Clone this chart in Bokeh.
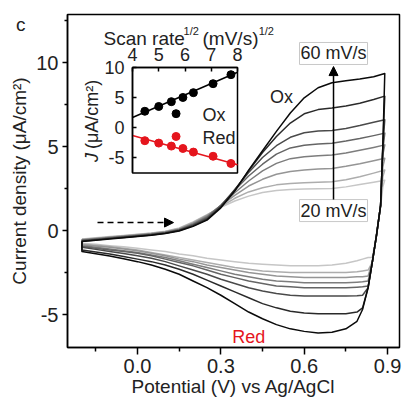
from bokeh.plotting import figure
from bokeh.models import (Range1d, LinearAxis, FixedTicker, PrintfTickFormatter,
                          Label, Arrow, NormalHead)
from bokeh.embed import file_html
from bokeh.resources import INLINE
from math import pi

FONT = "Liberation Sans"

# ---------------- main CV data ----------------
E_fwd = [-0.20, -0.15, -0.10, -0.05, 0.00, 0.05, 0.10, 0.15, 0.20, 0.25, 0.30, 0.35,
         0.40, 0.45, 0.50, 0.55, 0.60, 0.65, 0.70, 0.75, 0.80, 0.85, 0.89]
E_rev = [0.89, 0.883, 0.875, 0.86, 0.845, 0.83, 0.81, 0.79, 0.75, 0.70, 0.65, 0.60,
         0.55, 0.50, 0.45, 0.40, 0.35, 0.30, 0.25, 0.20, 0.15, 0.10, 0.05, 0.00,
         -0.05, -0.10, -0.15, -0.20]

# lightest (slowest) -> darkest (60 mV/s)
fwd_1 = [-0.5, -0.43, -0.36, -0.29, -0.22, -0.14, -0.04, 0.15, 0.52, 0.95, 1.38, 1.76, 2.05, 2.27, 2.38, 2.44, 2.47, 2.49, 2.5, 2.6, 2.74, 2.88, 3.0]
fwd_2 = [-0.52, -0.45, -0.38, -0.31, -0.24, -0.16, -0.06, 0.12, 0.48, 0.92, 1.42, 1.92, 2.3, 2.55, 2.72, 2.8, 2.85, 2.88, 2.9, 3.02, 3.2, 3.42, 3.6]
fwd_3 = [-0.54, -0.47, -0.4, -0.33, -0.26, -0.18, -0.08, 0.1, 0.44, 0.88, 1.48, 2.1, 2.65, 3.05, 3.35, 3.52, 3.6, 3.66, 3.7, 3.83, 3.98, 4.15, 4.3]
fwd_4 = [-0.56, -0.49, -0.42, -0.35, -0.28, -0.2, -0.1, 0.07, 0.4, 0.82, 1.5, 2.25, 2.95, 3.55, 4.0, 4.28, 4.4, 4.46, 4.5, 4.62, 4.78, 4.95, 5.1]
fwd_5 = [-0.58, -0.51, -0.44, -0.37, -0.3, -0.22, -0.12, 0.05, 0.36, 0.78, 1.5, 2.4, 3.25, 3.95, 4.55, 4.92, 5.08, 5.15, 5.2, 5.33, 5.48, 5.65, 5.8]
fwd_6 = [-0.6, -0.53, -0.46, -0.39, -0.32, -0.24, -0.14, 0.02, 0.32, 0.72, 1.45, 2.45, 3.45, 4.35, 5.05, 5.55, 5.82, 5.92, 5.95, 6.08, 6.25, 6.45, 6.6]
fwd_7 = [-0.63, -0.56, -0.48, -0.41, -0.34, -0.26, -0.16, 0.0, 0.28, 0.66, 1.4, 2.4, 3.55, 4.65, 5.6, 6.4, 6.95, 7.2, 7.3, 7.42, 7.58, 7.8, 8.0]
fwd_8 = [-0.65, -0.58, -0.5, -0.43, -0.36, -0.28, -0.18, -0.03, 0.25, 0.62, 1.35, 2.35, 3.6, 4.75, 5.9, 7.0, 7.9, 8.5, 8.8, 8.92, 9.02, 9.15, 9.35]

rev_1 = [3.0, 2.6, 1.4, -0.3, -1.6, -1.6, -1.7, -1.8, -1.95, -2.05, -2.1, -2.1, -2.1, -2.05, -2.0, -1.95, -1.85, -1.75, -1.65, -1.5, -1.4, -1.25, -1.15, -1.05, -0.97, -0.9, -0.82, -0.75]
rev_2 = [3.6, 3.2, 1.5, -0.3, -1.9, -2.35, -2.4, -2.45, -2.5, -2.5, -2.5, -2.5, -2.5, -2.45, -2.4, -2.3, -2.2, -2.05, -1.9, -1.75, -1.6, -1.45, -1.3, -1.15, -1.05, -0.95, -0.87, -0.8]
rev_3 = [4.3, 3.8, 1.5, -0.3, -1.9, -2.7, -2.75, -2.75, -2.8, -2.8, -2.8, -2.8, -2.75, -2.7, -2.6, -2.5, -2.35, -2.2, -2.05, -1.85, -1.7, -1.5, -1.35, -1.2, -1.1, -1.0, -0.92, -0.85]
rev_4 = [5.1, 4.5, 1.5, -0.3, -1.9, -3.0, -3.05, -3.07, -3.1, -3.1, -3.1, -3.1, -3.05, -3.0, -2.9, -2.75, -2.6, -2.4, -2.2, -2.0, -1.8, -1.6, -1.45, -1.3, -1.2, -1.1, -1.0, -0.9]
rev_5 = [5.8, 4.8, 1.5, -0.3, -1.9, -3.3, -3.35, -3.37, -3.4, -3.4, -3.4, -3.4, -3.35, -3.3, -3.15, -3.0, -2.8, -2.6, -2.35, -2.1, -1.9, -1.7, -1.5, -1.35, -1.25, -1.15, -1.05, -0.95]
rev_6 = [6.6, 5.0, 1.5, -0.3, -1.9, -3.4, -3.85, -3.88, -3.9, -3.9, -3.9, -3.9, -3.85, -3.75, -3.6, -3.4, -3.15, -2.9, -2.6, -2.35, -2.1, -1.85, -1.65, -1.5, -1.37, -1.25, -1.12, -1.0]
rev_7 = [8.0, 5.0, 1.5, -0.3, -1.9, -3.4, -4.6, -4.85, -4.95, -4.95, -4.95, -4.9, -4.8, -4.6, -4.35, -4.0, -3.65, -3.3, -2.95, -2.6, -2.3, -2.05, -1.85, -1.7, -1.55, -1.4, -1.27, -1.15]
rev_8 = [9.35, 5.0, 1.5, -0.3, -1.9, -3.4, -4.7, -5.4, -5.85, -6.05, -6.1, -6.0, -5.85, -5.6, -5.25, -4.85, -4.35, -3.85, -3.4, -3.0, -2.6, -2.3, -2.05, -1.85, -1.68, -1.52, -1.38, -1.25]

curve_colors = ["#c6c6c6", "#adadad", "#959595", "#7d7d7d", "#656565", "#4a4a4a", "#2a2a2a", "#0a0a0a"]

x_ticks = [0.0, 0.3, 0.6, 0.9]
x_minor = [-0.15, 0.15, 0.45, 0.75]
y_ticks = [-5, 0, 5, 10]
y_minor = [-2.5, 2.5, 7.5, 12.5]

# ---------------- inset data ----------------
sqrt_rate = [4.47, 5.00, 5.48, 5.66, 5.92, 6.32, 7.07, 7.75]
ox_J = [2.7, 3.5, 4.3, 2.3, 5.0, 5.8, 7.3, 8.8]
red_J = [-2.2, -2.6, -3.1, -1.5, -3.5, -4.1, -4.8, -6.0]
fit_x = [4, 8]
ox_fit = [1.67, 9.2]
red_fit = [-1.33, -6.2]
inset_x_ticks = [4, 5, 6, 7, 8]
inset_y_ticks = [-5, 0, 5, 10]

RED = "#e5151d"

p = figure(width=403, height=403,
           x_range=Range1d(-0.252, 0.943), y_range=Range1d(-6.96, 12.86),
           output_backend="svg", toolbar_location=None,
           min_border_left=67, min_border_right=4, min_border_top=14, min_border_bottom=56)
p.xgrid.visible = False
p.ygrid.visible = False
p.outline_line_color = "black"
p.outline_line_width = 1.5
p.outline_line_alpha = 1.0
p.background_fill_color = "white"
p.border_fill_color = "white"

xa = p.xaxis[0]
xa.ticker = FixedTicker(ticks=x_ticks, minor_ticks=x_minor)
xa.formatter = PrintfTickFormatter(format="%.1f")
xa.axis_label = "Potential (V) vs Ag/AgCl"
ya = p.yaxis[0]
ya.ticker = FixedTicker(ticks=y_ticks, minor_ticks=y_minor)
ya.formatter = PrintfTickFormatter(format="%d")
ya.axis_label = "Current density (μA/cm²)"
for ax in (xa, ya):
    ax.axis_line_width = 1.5
    ax.major_tick_line_width = 1.5
    ax.minor_tick_line_width = 1.5
    ax.major_tick_in = 0
    ax.minor_tick_in = 0
    ax.major_label_text_font = FONT
    ax.major_label_text_font_size = "20px"
    ax.major_label_text_color = "#222222"
    ax.axis_label_text_font = FONT
    ax.axis_label_text_font_size = "19px"
    ax.axis_label_text_font_style = "normal"
    ax.axis_label_text_color = "#222222"
xa.major_tick_out = 7
xa.minor_tick_out = 4
xa.major_label_standoff = 4
xa.axis_label_standoff = 0
ya.major_tick_out = 5
ya.minor_tick_out = 3
ya.major_label_standoff = 4
ya.axis_label_standoff = 3

# curves
fwds = [fwd_1, fwd_2, fwd_3, fwd_4, fwd_5, fwd_6, fwd_7, fwd_8]
revs = [rev_1, rev_2, rev_3, rev_4, rev_5, rev_6, rev_7, rev_8]
for f, r, col in zip(fwds, revs, curve_colors):
    xs = E_fwd + E_rev + [E_fwd[0]]
    ys = f + r + [f[0]]
    p.line(xs, ys, line_color=col, line_width=1.5, line_join="round")

# ---------------- inset on its own scales ----------------
p.extra_x_ranges = {"ix": Range1d(1.524, 14.171)}
p.extra_y_ranges = {"iy": Range1d(-36.67, 18.83)}
p.quad(left=[4], right=[8], bottom=[-7.58], top=[10], fill_color="white",
       line_color="black", line_width=1.5, x_range_name="ix", y_range_name="iy")
p.line(fit_x, ox_fit, line_color="black", line_width=1.5, x_range_name="ix", y_range_name="iy")
p.line(fit_x, red_fit, line_color=RED, line_width=1.5, x_range_name="ix", y_range_name="iy")
p.scatter(sqrt_rate, ox_J, size=8, color="black", x_range_name="ix", y_range_name="iy")
p.scatter(sqrt_rate, red_J, size=8, color=RED, x_range_name="ix", y_range_name="iy")

ix_axis = LinearAxis(x_range_name="ix", y_range_name="iy", fixed_location=10, bounds=(4, 8),
                     ticker=FixedTicker(ticks=inset_x_ticks, minor_ticks=[]))
iy_axis = LinearAxis(x_range_name="ix", y_range_name="iy", fixed_location=4, bounds=(-7.58, 10),
                     ticker=FixedTicker(ticks=inset_y_ticks, minor_ticks=[]),
                     formatter=PrintfTickFormatter(format="%d"))
for ax in (ix_axis, iy_axis):
    ax.axis_line_width = 1.5
    ax.major_tick_line_width = 1.5
    ax.major_tick_in = 4
    ax.major_tick_out = 0
    ax.minor_tick_in = 0
    ax.minor_tick_out = 0
    ax.major_label_text_font = FONT
    ax.major_label_text_font_size = "18px"
    ax.major_label_text_color = "#222222"
ix_axis.major_label_standoff = 6
iy_axis.major_label_standoff = 8
p.add_layout(ix_axis, "above")
p.add_layout(iy_axis, "left")

# panel letter "c": an empty, line-less axis in the left border whose only content is its
# label; blank lines below it lift the "c" to the top-left corner
c_axis = LinearAxis(ticker=FixedTicker(ticks=[], minor_ticks=[]),
                    axis_line_color=None, major_tick_line_color=None,
                    minor_tick_line_color=None, axis_label="c" + "\n " * 14,
                    axis_label_orientation="horizontal", axis_label_standoff=-19,
                    axis_label_text_font=FONT, axis_label_text_font_size="19px",
                    axis_label_text_line_height=1.065,
                    axis_label_text_font_style="normal", axis_label_text_color="#222222")
p.add_layout(c_axis, "left")

def lab(x, y, text, size="18px", color="#222222", align="left", baseline="middle",
        angle=0, style="normal", **kw):
    p.add_layout(Label(x=x, y=y, text=text, text_font=FONT, text_font_size=size,
                       text_color=color, text_align=align, text_baseline=baseline,
                       angle=angle, text_font_style=style, **kw))

# inset axis titles
lab(-0.1224, 11.43, "Scan rate", size="19px", baseline="alphabetic")
lab(0.1656, 11.85, "1/2", size="11px", baseline="alphabetic")
lab(0.234, 11.43, "(mV/s)", size="19px", baseline="alphabetic")
lab(0.436, 11.85, "1/2", size="11px", baseline="alphabetic")
lab(-0.1656, 4.08, "J", angle=pi / 2, style="italic")
lab(-0.1656, 4.85, "(μA/cm²)", angle=pi / 2)
lab(6.67, 2.0, "Ox", x_range_name="ix", y_range_name="iy")
lab(6.67, -1.67, "Red", x_range_name="ix", y_range_name="iy")

lab(0.518, 7.92, "Ox", align="center")
lab(0.40, -6.31, "Red", align="center", color=RED)
lab(0.7055, 10.54, "60 mV/s", align="center", background_fill_color="white",
    border_line_color="#c8c8c8", border_line_width=1, padding=1)
lab(0.7055, 1.19, "20 mV/s", align="center", background_fill_color="white",
    border_line_color="#c8c8c8", border_line_width=1, padding=1)

p.add_layout(Arrow(end=NormalHead(size=9, fill_color="black", line_color="black", line_width=1),
                   x_start=0.7055, y_start=1.85, x_end=0.7055, y_end=9.76,
                   line_color="black", line_width=1.5))
p.add_layout(Arrow(end=NormalHead(size=9, fill_color="black", line_color="black", line_width=1),
                   x_start=-0.144, y_start=0.476, x_end=0.1296, y_end=0.476,
                   line_color="black", line_width=1.5, line_dash="6 4"))

open("out.html", "w").write(file_html(p, INLINE))
